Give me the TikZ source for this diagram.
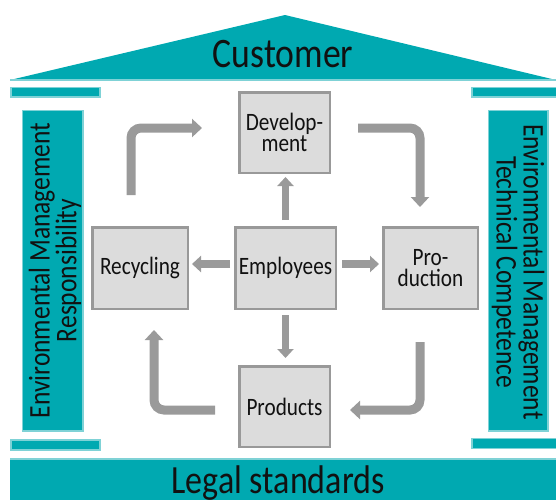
\documentclass[tikz,border=0pt]{standalone}
\usepackage{fontspec}
\setmainfont{Carlito}[FakeStretch=0.85]
\usetikzlibrary{arrows.meta,calc}
\definecolor{tealc}{HTML}{00A9B1}
\definecolor{teallt}{HTML}{7FD2D6}
\definecolor{boxfill}{HTML}{DCDCDC}
\definecolor{boxline}{HTML}{999999}
\definecolor{arrowc}{HTML}{9A9A9A}
\definecolor{ink}{HTML}{111111}
\tikzset{
  band/.style={fill=tealc, draw=teallt, line width=1.5pt},
  stepbox/.style={draw=boxline, fill=boxfill, line width=2.5pt, inner sep=0pt,
    text=ink, align=center, font=\fontsize{25}{21.5}\selectfont},
  sarr/.style={draw=arrowc, line width=7.5pt, -{Triangle[width=16pt,length=9pt]}},
  carr/.style={draw=arrowc, line width=9pt, rounded corners=10pt, -{Triangle[width=18pt,length=10pt]}},
  pillartext/.style={text=ink, align=center, font=\fontsize{30}{25}\selectfont},
}
\begin{document}
\begin{tikzpicture}[x=1pt,y=-1pt]
\useasboundingbox (0,0) rectangle (556,499);
% roof
\fill[tealc] (10,80) -- (285,15) -- (556,80) -- cycle;
\draw[teallt, line width=2.5pt] (10,80) -- (556,80);
\node[text=ink, font=\fontsize{42}{42}\selectfont, inner sep=0pt] (cust) at (283,54.5) {Customer};
% bars
\draw[band] (11,87.5) rectangle (100,97);
\draw[band] (472,87.5) rectangle (557,97);
\draw[band] (11,440) rectangle (100,450);
\draw[band] (472,438.5) rectangle (557,448.5);
% pillars
\draw[band] (22.5,110.5) rectangle (83,431);
\draw[band] (488.5,110.5) rectangle (548,431);
\node[pillartext, rotate=90] (lp) at (55,270.5) {Environmental Management\\Responsibility};
\node[pillartext, rotate=-90] (rp) at (518,272) {Environmental Management\\Technical Competence};
% legal standards
\fill[tealc] (10,458) rectangle (557,500);
\draw[teallt, line width=2.5pt] (10,459) -- (557,459);
\node[text=ink, font=\fontsize{40}{40}\selectfont, inner sep=0pt] (legal) at (278,483) {Legal standards};
% boxes
\node[stepbox, minimum width=90.5pt, minimum height=80.5pt] (dev) at (284.5,132.5) {Develop-\\ment};
\node[stepbox, minimum width=95.5pt, minimum height=81.5pt] (rec) at (140,268) {Recycling};
\node[stepbox, minimum width=100.5pt, minimum height=81.5pt] (emp) at (285.5,268) {Employees};
\node[stepbox, minimum width=94.5pt, minimum height=81.5pt] (pro) at (430.5,268) {Pro-\\duction};
\node[stepbox, minimum width=90.5pt, minimum height=80.5pt] (prd) at (284.5,406.5) {Products};
% straight arrows from Employees
\draw[sarr, shorten <=6pt, shorten >=3pt] (emp.north) -- (emp.north |- dev.south);
\draw[sarr, shorten <=5pt, shorten >=7pt] (emp.south) -- (emp.south |- prd.north);
\draw[sarr, shorten <=4pt, shorten >=3pt] ([yshift=4pt]emp.west) -- ([yshift=4pt]emp.west -| rec.east);
\draw[sarr, shorten <=5pt, shorten >=3pt] ([yshift=4pt]emp.east) -- ([yshift=4pt]emp.east -| pro.west);
% cycle arrows
\draw[carr] ($(rec.north)+(-9,-31)$) |- ($(dev.west)+(-36,-4.5)$);
\draw[carr] ($(dev.east)+(27,-4.5)$) -| ($(pro.north)+(-10.5,-19)$);
\draw[carr] ($(pro.south)+(-10.5,32)$) |- ($(prd.east)+(19,3.5)$);
\draw[carr] ($(prd.west)+(-23,3.5)$) -| ($(rec.south)+(14,20)$);
\end{tikzpicture}
\end{document}
